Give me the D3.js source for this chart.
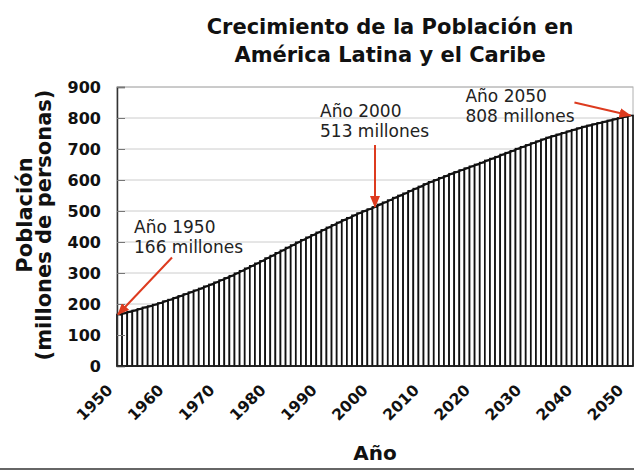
<!DOCTYPE html>
<html>
<head>
<meta charset="utf-8">
<script src="https://cdn.jsdelivr.net/npm/d3@7"></script>
<style>
  body { margin: 0; background: #fff; }
  svg { display: block; font-family: "DejaVu Sans", Verdana, sans-serif; }
</style>
</head>
<body>
<div id="chart"></div>
<script>
// years 1950..2050, one bar each
let years = d3.range(1950, 2051);

// population (millions), one value per year
let population = [
  166, 170, 175, 179, 184, 189, 193, 198, 203, 209,   // 1950-1959
  214, 220, 226, 232, 238, 244, 250, 257, 263, 270,   // 1960-1969
  277, 284, 291, 299, 307, 315, 323, 331, 339, 348,   // 1970-1979
  356, 365, 373, 382, 390, 399, 407, 415, 423, 431,   // 1980-1989
  439, 447, 455, 463, 471, 478, 486, 493, 500, 506,   // 1990-1999
  513, 521, 528, 535, 543, 550, 557, 565, 572, 579,   // 2000-2009
  587, 594, 600, 607, 613, 620, 626, 632, 638, 644,   // 2010-2019
  650, 656, 663, 669, 675, 682, 688, 694, 701, 707,   // 2020-2029
  713, 719, 725, 731, 737, 742, 747, 752, 757, 762,   // 2030-2039
  767, 772, 776, 780, 784, 788, 792, 796, 800, 804,   // 2040-2049
  808                                                 // 2050
];

let xTickYears = [1950, 1960, 1970, 1980, 1990, 2000, 2010, 2020, 2030, 2040, 2050];
let yTicks = [0, 100, 200, 300, 400, 500, 600, 700, 800, 900];

let noteYears = [1950, 2000, 2050];
let noteLine1 = ["Año 1950", "Año 2000", "Año 2050"];
let noteLine2 = ["166 millones", "513 millones", "808 millones"];

let titleLines = ["Crecimiento de la Población en", "América Latina y el Caribe"];

let red = "#dd3b1f";

let svg = d3.select('#chart')
    .append('svg')
    .attr('width', 638)
    .attr('height', 473);

let x = d3.scaleBand()
    .domain(years)
    .range([117, 633])
    .padding(0);

let y = d3.scaleLinear()
    .domain([0, 900])
    .range([366, 87]);

// gridlines
svg.append('g')
    .selectAll('line')
    .data(yTicks.slice(1))
    .join('line')
    .attr('x1', 117)
    .attr('x2', 633)
    .attr('y1', function (d) { return y(d); })
    .attr('y2', function (d) { return y(d); })
    .attr('stroke', '#cccccc')
    .attr('stroke-width', 1);

// plot frame
svg.append('rect')
    .attr('x', 117)
    .attr('y', y(900))
    .attr('width', 633 - 117)
    .attr('height', y(0) - y(900))
    .attr('fill', 'none')
    .attr('stroke', '#b0b0b0');

// bars
svg.append('g')
    .selectAll('rect')
    .data(years)
    .join('rect')
    .attr('x', function (d) { return x(d); })
    .attr('width', x.bandwidth())
    .attr('y', function (d, i) { return y(population[i]); })
    .attr('height', function (d, i) { return y(0) - y(population[i]); })
    .attr('fill', '#fff')
    .attr('stroke', '#111')
    .attr('stroke-width', 1.7);

// heavier line along the bar tops
svg.append('path')
    .datum(years)
    .attr('d', d3.line()
        .x(function (d) { return x(d) + x.bandwidth() / 2; })
        .y(function (d, i) { return y(population[i]); }))
    .attr('fill', 'none')
    .attr('stroke', '#111')
    .attr('stroke-width', 2);

// y axis
let yAxis = svg.append('g')
    .attr('transform', 'translate(117,0)')
    .call(d3.axisLeft(y).tickValues(yTicks).tickSize(-8).tickPadding(16));
yAxis.select('.domain').attr('stroke', '#333').attr('stroke-width', 1.5);
yAxis.selectAll('.tick line').attr('stroke', '#777');
yAxis.selectAll('.tick text')
    .attr('font-family', '"DejaVu Sans", Verdana, sans-serif')
    .attr('font-size', 16)
    .attr('font-weight', 'bold')
    .attr('fill', '#111');

// x axis baseline
svg.append('line')
    .attr('x1', 117)
    .attr('x2', 633)
    .attr('y1', y(0))
    .attr('y2', y(0))
    .attr('stroke', '#222')
    .attr('stroke-width', 1.5);

// x tick labels, rotated
svg.append('g')
    .selectAll('text')
    .data(xTickYears)
    .join('text')
    .attr('transform', function (d) {
        return 'translate(' + (x(d) + x.bandwidth() / 2 - 6) + ',391) rotate(-45)';
    })
    .attr('text-anchor', 'end')
    .attr('font-size', 15.5)
    .attr('font-weight', 'bold')
    .attr('fill', '#111')
    .text(function (d) { return d; });

// axis titles
svg.append('text')
    .attr('x', (117 + 633) / 2)
    .attr('y', 460)
    .attr('text-anchor', 'middle')
    .attr('font-size', 20)
    .attr('font-weight', 'bold')
    .attr('fill', '#111')
    .text('Año');

svg.append('text')
    .attr('transform', 'translate(32,215) rotate(-90)')
    .attr('text-anchor', 'middle')
    .attr('font-size', 21)
    .attr('font-weight', 'bold')
    .attr('fill', '#111')
    .text('Población');

svg.append('text')
    .attr('transform', 'translate(51,225) rotate(-90)')
    .attr('text-anchor', 'middle')
    .attr('font-size', 21)
    .attr('font-weight', 'bold')
    .attr('fill', '#111')
    .text('(millones de personas)');

// title
svg.append('g')
    .selectAll('text')
    .data(titleLines)
    .join('text')
    .attr('x', 390)
    .attr('y', function (d, i) { return 34 + i * 28; })
    .attr('text-anchor', 'middle')
    .attr('font-size', 21)
    .attr('font-weight', 'bold')
    .attr('fill', '#111')
    .text(function (d) { return d; });

// bottom rule
svg.append('line')
    .attr('x1', 0)
    .attr('x2', 634)
    .attr('y1', 469)
    .attr('y2', 469)
    .attr('stroke', '#666')
    .attr('stroke-width', 2);

// arrow head
svg.append('defs')
    .append('marker')
    .attr('id', 'head')
    .attr('viewBox', '0 0 12 10')
    .attr('refX', 11)
    .attr('refY', 5)
    .attr('markerWidth', 12)
    .attr('markerHeight', 10)
    .attr('markerUnits', 'userSpaceOnUse')
    .attr('orient', 'auto')
    .append('path')
    .attr('d', 'M0,0 L12,5 L0,10 Z')
    .attr('fill', red);

// annotations: text offset and arrow start, relative to the bar top they point at
let noteTextDx = [16, -55, -165];
let noteTextDy = [-82, -90, -14];
let arrowDx = [54, 0, -56];
let arrowDy = [-57, -62, -13];

let notes = svg.append('g')
    .selectAll('g')
    .data(noteYears)
    .join('g');

notes.each(function (d, i) {
    let g = d3.select(this);
    let v = population[years.indexOf(d)];
    let tx = x(d) + x.bandwidth() / 2;
    let ty = y(v);
    if (i === 0) tx = x(d) + 1;

    g.append('line')
        .attr('x1', tx + arrowDx[i])
        .attr('y1', ty + arrowDy[i])
        .attr('x2', tx)
        .attr('y2', ty)
        .attr('stroke', red)
        .attr('stroke-width', 2)
        .attr('marker-end', 'url(#head)');

    g.append('text')
        .attr('x', tx + noteTextDx[i])
        .attr('y', ty + noteTextDy[i])
        .attr('font-size', 17)
        .attr('fill', '#222')
        .text(noteLine1[i]);

    g.append('text')
        .attr('x', tx + noteTextDx[i])
        .attr('y', ty + noteTextDy[i] + 20)
        .attr('font-size', 17)
        .attr('fill', '#222')
        .text(noteLine2[i]);
});
</script>
</body>
</html>
